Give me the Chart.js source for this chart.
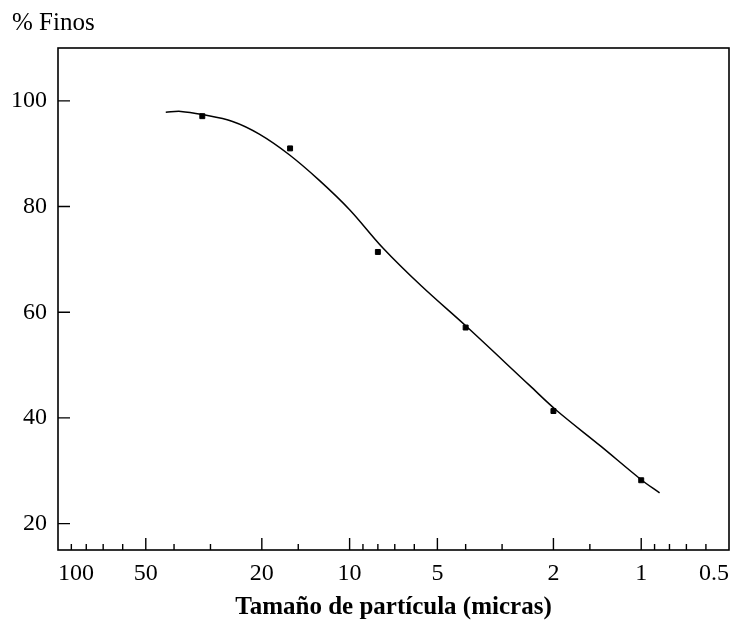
<!DOCTYPE html>
<html>
<head>
<meta charset="utf-8">
<script src="https://cdn.jsdelivr.net/npm/chart.js@4"></script>
<style>
  body { margin: 0; background: #fff; }
  #wrap { width: 748px; height: 623px; position: relative; }
</style>
</head>
<body>
<div id="wrap"><canvas id="chart"></canvas></div>
<script>
// measured points (size in microns, % fines)
const sizes = [32, 16, 8, 4, 2, 1];
const fines = [97.1, 91.0, 71.4, 57.1, 41.3, 28.2];

// fitted curve
const curveSizes = [42.7, 37.9, 32.0, 25.2, 20.4, 16.1, 12.7, 10.0, 7.7, 5.67, 3.93, 2.41, 1.95, 1.38, 1.0, 0.865];
const curveFines = [97.85, 98.0, 97.4, 96.1, 93.7, 89.8, 84.95, 79.4, 72.2, 64.95, 57.05, 46.1, 41.4, 34.7, 28.3, 25.8];

const xLabels = [100, 50, 20, 10, 5, 2, 1, 0.5];
const xMinor = [90, 80, 70, 60, 40, 30, 15, 9, 8, 7, 6, 4, 3, 1.5, 0.9, 0.8, 0.7, 0.6];
const xMajorTicks = [50, 20, 10, 5, 2, 1];
const yLabels = [20, 40, 60, 80, 100];

const serif = "'Liberation Serif', 'DejaVu Serif', serif";

// border box + inward tick marks + "% Finos"
const framePlugin = {
  id: 'frame',
  afterDraw(chart) {
    const ctx = chart.ctx;
    const a = chart.chartArea;
    const xs = chart.scales.x, ys = chart.scales.y;
    ctx.save();
    ctx.strokeStyle = '#000';
    ctx.lineWidth = 1.6;
    ctx.strokeRect(a.left, a.top, a.right - a.left, a.bottom - a.top);

    ctx.lineWidth = 1.4;
    ctx.beginPath();
    yLabels.forEach(v => {
      const y = ys.getPixelForValue(v);
      ctx.moveTo(a.left, y);
      ctx.lineTo(a.left + 12, y);
    });
    xMajorTicks.forEach(v => {
      const x = xs.getPixelForValue(v);
      ctx.moveTo(x, a.bottom);
      ctx.lineTo(x, a.bottom - 12);
    });
    xMinor.forEach(v => {
      const x = xs.getPixelForValue(v);
      ctx.moveTo(x, a.bottom);
      ctx.lineTo(x, a.bottom - 6);
    });
    ctx.stroke();

    ctx.fillStyle = '#000';
    ctx.font = '25px ' + serif;
    ctx.textAlign = 'left';
    ctx.textBaseline = 'middle';
    ctx.fillText('% Finos', 12, 23);
    ctx.restore();
  }
};

new Chart(document.getElementById('chart'), {
  type: 'scatter',
  data: {
    datasets: [
      {
        data: sizes.map((s, i) => ({ x: s, y: fines[i] })),
        pointStyle: 'rect',
        pointRadius: 3.5,
        backgroundColor: '#000',
        borderColor: '#000',
        showLine: false
      },
      {
        data: curveSizes.map((s, i) => ({ x: s, y: curveFines[i] })),
        showLine: true,
        pointRadius: 0,
        borderColor: '#000',
        borderWidth: 1.5,
        tension: 0.35
      }
    ]
  },
  options: {
    responsive: true,
    maintainAspectRatio: false,
    animation: false,
    layout: { padding: { top: 48, right: 19, left: 0, bottom: 0 } },
    plugins: {
      legend: { display: false },
      tooltip: { enabled: false }
    },
    scales: {
      x: {
        type: 'logarithmic',
        reverse: true,
        min: 0.5,
        max: 100,
        grid: { display: false },
        border: { display: false },
        // reversed order so 'inner' keeps the end labels inside the box
        afterBuildTicks: s => { s.ticks = xLabels.slice().reverse().map(v => ({ value: v })); },
        afterFit: s => { s.height = 73; s.paddingLeft = 0; s.paddingRight = 0; },
        ticks: {
          autoSkip: false,
          maxRotation: 0,
          align: 'inner',
          padding: 1,
          color: '#000',
          font: { family: serif, size: 24 },
          callback: v => String(v)
        },
        title: {
          display: true,
          text: 'Tamaño de partícula (micras)',
          color: '#000',
          font: { family: serif, size: 25, weight: 'bold' },
          padding: { top: 6, bottom: 0 }
        }
      },
      y: {
        min: 15,
        max: 110,
        grid: { display: false },
        border: { display: false },
        afterBuildTicks: s => { s.ticks = yLabels.map(v => ({ value: v })); },
        afterFit: s => { s.width = 58; },
        ticks: {
          padding: 3,
          color: '#000',
          font: { family: serif, size: 24 }
        }
      }
    }
  },
  plugins: [framePlugin]
});
</script>
</body>
</html>
